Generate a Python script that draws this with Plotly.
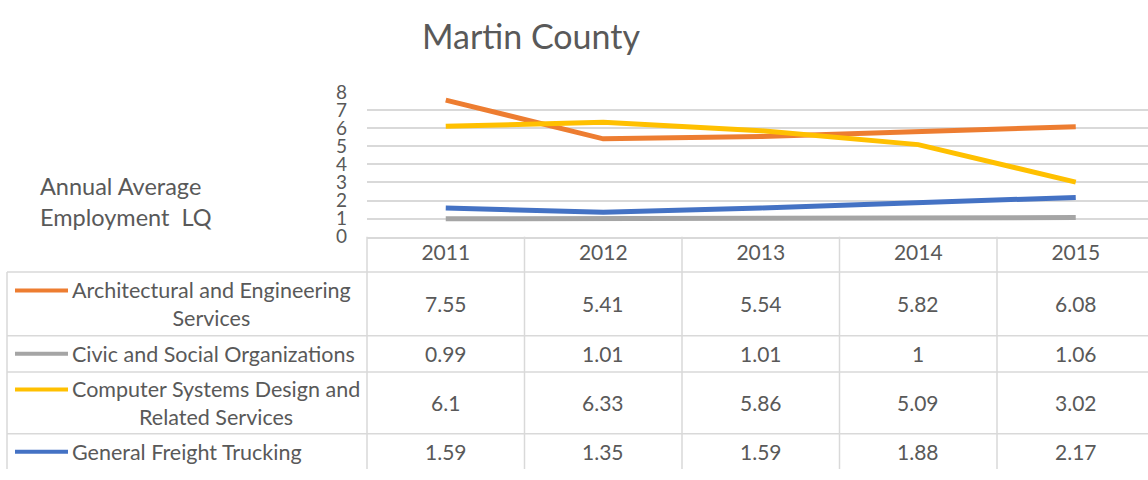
import plotly.graph_objects as go

# ---------------- data ----------------
years = [2011, 2012, 2013, 2014, 2015]
series_names = [
    "Architectural and Engineering<br>Services",
    "Civic and Social Organizations",
    "Computer Systems Design and<br>Related Services",
    "General Freight Trucking",
]
arch_eng = [7.55, 5.41, 5.54, 5.82, 6.08]
civic_social = [0.99, 1.01, 1.01, 1.00, 1.06]
computer_sys = [6.10, 6.33, 5.86, 5.09, 3.02]
freight = [1.59, 1.35, 1.59, 1.88, 2.17]
series_values = [arch_eng, civic_social, computer_sys, freight]
series_colors = ["#ED7D31", "#A5A5A5", "#FFC000", "#4472C4"]

title_text = "Martin County"
y_title = "Annual Average<br>Employment\u00a0 LQ"

# ---------------- layout helpers (pixels -> paper) ----------------
W, H = 1148, 480
FONT = "Lato, Carlito, Calibri, sans-serif"
TXT = "#595959"
GRID = "#d9d9d9"
LABEL_SIZE = 21.5


def px(x):
    return x / W


def py(y):
    return 1 - y / H


plot_left, plot_top, plot_bottom = 367, 84, 236
col_w = 157.5
table_left = 7
row_edges = [273, 340, 378, 443, 482]

fig = go.Figure()
for name, vals, col in zip(series_names, series_values, series_colors):
    fig.add_trace(go.Scatter(
        x=years, y=vals, mode="lines", name=name.replace("<br>", " "),
        line=dict(color=col, width=5), showlegend=False, hoverinfo="x+y+name",
    ))

x0 = years[0] - 0.5
x1 = x0 + (W - plot_left) / col_w

shapes = []
annotations = []

# table grid
line_style = dict(color=GRID, width=1.5)
for y in row_edges[:-1]:
    shapes.append(dict(type="line", xref="paper", yref="paper",
                       x0=px(table_left), x1=1, y0=py(y), y1=py(y), line=line_style))
shapes.append(dict(type="line", xref="paper", yref="paper",
                   x0=px(table_left), x1=px(table_left), y0=py(row_edges[0]), y1=0, line=line_style))
shapes.append(dict(type="line", xref="paper", yref="paper",
                   x0=px(plot_left), x1=px(plot_left), y0=py(plot_bottom), y1=0, line=line_style))
for yr in years:
    shapes.append(dict(type="line", xref="x", yref="paper",
                       x0=yr + 0.5, x1=yr + 0.5, y0=py(plot_bottom), y1=0, line=line_style))

# table rows: legend key, label, values
line_gap = 1.3 * LABEL_SIZE
for i, (name, vals, col) in enumerate(zip(series_names, series_values, series_colors)):
    top, bot = row_edges[i], row_edges[i + 1]
    if i == len(series_names) - 1:
        bot = top + 38
    yc = (top + bot) / 2
    nlines = name.count("<br>") + 1
    key_y = yc - (nlines - 1) * line_gap / 2
    shapes.append(dict(type="line", xref="paper", yref="paper",
                       x0=px(15), x1=px(68), y0=py(key_y), y1=py(key_y),
                       line=dict(color=col, width=4)))
    annotations.append(dict(xref="paper", yref="paper", x=px(70), y=py(yc),
                            xanchor="left", yanchor="middle", align="center",
                            text=name, showarrow=False,
                            font=dict(family=FONT, size=LABEL_SIZE, color=TXT)))
    for yr, v in zip(years, vals):
        annotations.append(dict(xref="x", yref="paper", x=yr, y=py(yc),
                                xanchor="center", yanchor="middle",
                                text=f"{v:g}", showarrow=False,
                                font=dict(family=FONT, size=21, color=TXT)))

# y axis title
annotations.append(dict(xref="paper", yref="paper", x=px(38), y=py(199),
                        xanchor="left", yanchor="middle", align="left",
                        text=y_title, showarrow=False,
                        font=dict(family=FONT, size=23.5, color=TXT)))

# chart title
annotations.append(dict(xref="paper", yref="paper", x=px(531), y=py(25),
                        xanchor="center", yanchor="middle",
                        text=title_text, showarrow=False,
                        font=dict(family=FONT, size=34, color=TXT)))

fig.update_layout(
    width=W, height=H, autosize=False,
    margin=dict(l=0, r=0, t=0, b=0),
    paper_bgcolor="white", plot_bgcolor="white",
    xaxis=dict(domain=[px(plot_left), 1], range=[x0, x1],
               tickvals=years, ticktext=[str(y) for y in years],
               showgrid=False, zeroline=False,
               showline=True, linecolor=GRID, linewidth=1.5,
               ticks="", ticklabelstandoff=-4,
               tickfont=dict(family=FONT, size=21, color=TXT)),
    yaxis=dict(domain=[py(plot_bottom), py(plot_top)], range=[0, 8],
               dtick=1, tick0=0, showgrid=True, gridcolor=GRID, gridwidth=1.5,
               zeroline=False, showline=False, ticks="",
               ticklabelstandoff=19,
               tickfont=dict(family=FONT, size=19, color=TXT)),
    shapes=shapes,
    annotations=annotations,
)

post = (
    "document.documentElement.style.margin='0';"
    "document.body.style.margin='0';"
    "document.documentElement.style.overflow='hidden';"
    "document.body.style.overflow='hidden';"
    "var d=document.getElementById('{plot_id}');"
    "d.style.position='fixed';d.style.top='0px';d.style.left='0px';"
)
fig.write_html("out.html", post_script=post, config={"displayModeBar": False})
